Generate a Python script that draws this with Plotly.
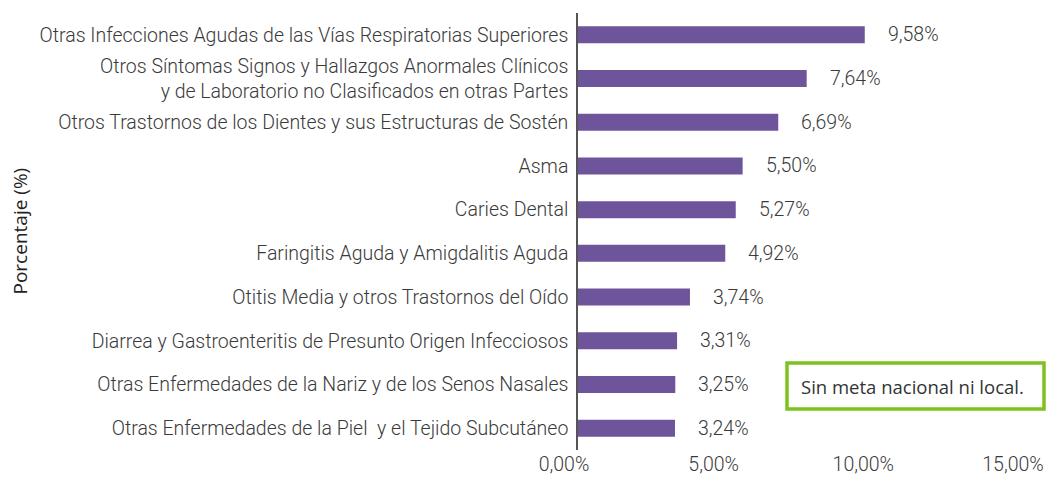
import plotly.graph_objects as go

categories = [
    "Otras Infecciones Agudas de las Vías Respiratorias Superiores",
    "Otros Síntomas Signos y Hallazgos Anormales Clínicos<br>y de Laboratorio no Clasificados en otras Partes",
    "Otros Trastornos de los Dientes y sus Estructuras de Sostén",
    "Asma",
    "Caries Dental",
    "Faringitis Aguda y Amigdalitis Aguda",
    "Otitis Media y otros Trastornos del Oído",
    "Diarrea y Gastroenteritis de Presunto Origen Infecciosos",
    "Otras Enfermedades de la Nariz y de los Senos Nasales",
    "Otras Enfermedades de la Piel  y el Tejido Subcutáneo",
]
values = [9.58, 7.64, 6.69, 5.50, 5.27, 4.92, 3.74, 3.31, 3.25, 3.24]
tick_vals = [0, 5, 10, 15]
tick_text = ["0,00%", "5,00%", "10,00%", "15,00%"]

FONT = "Roboto, sans-serif"
TXT = "#3a3a3a"
FS = 19.5
W8 = 300

fig = go.Figure()
fig.add_trace(go.Bar(
    y=categories, x=values, orientation="h",
    marker=dict(color="#6E549B", line=dict(width=0)),
    width=0.39, hoverinfo="skip",
))

for c, v in zip(categories, values):
    fig.add_annotation(x=v, y=c, text=f"{v:.2f}%".replace(".", ","),
                       showarrow=False, xanchor="left", xshift=21,
                       font=dict(family=FONT, size=FS, color=TXT, weight=W8))

PW, PH = 449, 437

fig.update_layout(
    width=1046, height=480,
    margin=dict(l=578, r=19, t=13, b=30),
    plot_bgcolor="white", paper_bgcolor="white",
    showlegend=False,
    font=dict(family=FONT, size=FS, color=TXT, weight=W8),
    xaxis=dict(range=[0, 15], tickvals=tick_vals, ticktext=tick_text,
               showgrid=False, zeroline=False, showline=False, ticks="",
               ticklabelshift=-14, automargin=False,
               tickfont=dict(family=FONT, size=FS, color=TXT, weight=W8)),
    yaxis=dict(autorange="reversed", showgrid=False, zeroline=False,
               showline=True, linecolor="#555555", linewidth=1.5, ticks="",
               ticklabelstandoff=4, automargin=False,
               tickfont=dict(family=FONT, size=FS, color=TXT, weight=W8)),
)

fig.add_annotation(xref="paper", yref="paper", x=(19 - 578) / PW, y=0.5,
                   text="Porcentaje (%)", textangle=-90, showarrow=False,
                   xanchor="center", yanchor="middle",
                   font=dict(family="Open Sans, sans-serif", size=19, color="#222222", weight=400))

fig.add_shape(type="rect", xref="paper", yref="paper",
              x0=(787 - 578) / PW, x1=(1044 - 578) / PW,
              y0=(450 - 409) / PH, y1=(450 - 363) / PH,
              line=dict(color="#7DC21E", width=3.5), fillcolor="white")
fig.add_annotation(xref="paper", yref="paper", x=(799 - 578) / PW,
                   y=(450 - 386) / PH, text="Sin meta nacional ni local.",
                   showarrow=False, xanchor="left", yanchor="middle",
                   font=dict(family="Open Sans, sans-serif", size=18.5, color="#333333", weight=400))

fig.write_html("out.html", config={"displayModeBar": False},
               post_script="document.body.style.margin='0';document.body.style.overflow='hidden';")
